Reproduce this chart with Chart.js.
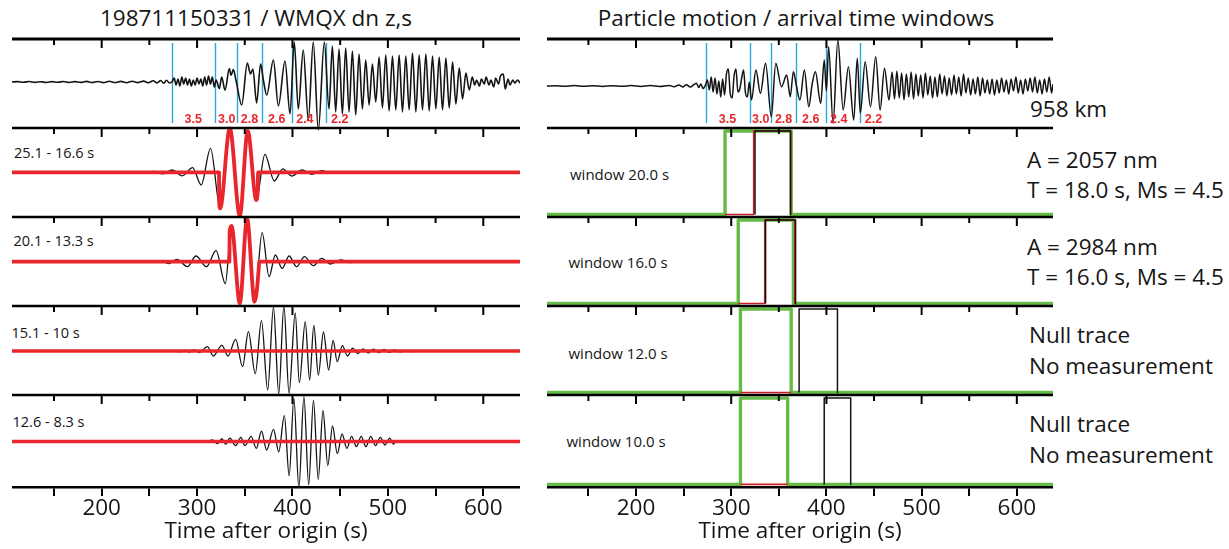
<!DOCTYPE html>
<html>
<head>
<meta charset="utf-8">
<title>198711150331 / WMQX</title>
<script src="https://cdn.jsdelivr.net/npm/chart.js@4.4.1/dist/chart.umd.min.js"></script>
<style>
  body { margin: 0; background: #fff; font-family: "Open Sans", sans-serif; color: #161616; }
  #stage { position: relative; width: 1229px; height: 549px; overflow: hidden; }
  .panel { position: absolute; }
  .txt { position: absolute; white-space: nowrap; line-height: 1; transform: translateY(-50%); }
  .center { transform: translate(-50%, -50%); }
  .big { font-size: 22.5px; }
  .band { font-size: 14.5px; }
  .win { font-size: 15px; }
</style>
</head>
<body>
<div id="stage">
  <div class="txt big center" style="left:256px;top:18px">198711150331 / WMQX dn z,s</div>
  <div class="txt big center" style="left:796px;top:18px">Particle motion / arrival time windows</div>

  <div class="txt band" style="left:14px;top:153px">25.1 - 16.6 s</div>
  <div class="txt band" style="left:13.5px;top:241px">20.1 - 13.3 s</div>
  <div class="txt band" style="left:11.5px;top:333px">15.1 - 10 s</div>
  <div class="txt band" style="left:12.5px;top:422px">12.6 - 8.3 s</div>

  <div class="txt win" style="left:570px;top:173.5px">window 20.0 s</div>
  <div class="txt win" style="left:568.5px;top:261.5px">window 16.0 s</div>
  <div class="txt win" style="left:568.5px;top:353px">window 12.0 s</div>
  <div class="txt win" style="left:566.5px;top:440.5px">window 10.0 s</div>

  <div class="txt big" style="left:1030px;top:109px">958 km</div>
  <div class="txt big" style="left:1027px;top:160px">A = 2057 nm</div>
  <div class="txt big" style="left:1027px;top:190px">T = 18.0 s, Ms = 4.5</div>
  <div class="txt big" style="left:1027px;top:246.5px">A = 2984 nm</div>
  <div class="txt big" style="left:1027px;top:276.5px">T = 16.0 s, Ms = 4.5</div>
  <div class="txt big" style="left:1029px;top:335px">Null trace</div>
  <div class="txt big" style="left:1029px;top:365.5px">No measurement</div>
  <div class="txt big" style="left:1029px;top:424px">Null trace</div>
  <div class="txt big" style="left:1029px;top:455px">No measurement</div>
</div>

<script>
// Eixo do tempo (s após a origem)
const tickValues = [150, 200, 250, 300, 350, 400, 450, 500, 550, 600];

// Velocidades de grupo (km/s) e tempos de chegada para 958 km
const groupVelocities = ['3.5', '3.0', '2.8', '2.6', '2.4', '2.2'];
const arrivalTimes = [273.7, 319.3, 342.1, 368.5, 399.2, 435.5];
const velocityLabelTimes = [296, 331, 355, 383.5, 413, 449.5];

// Sismograma bruto (coluna esquerda) [tempo, amplitude]
const leftBroadband = [
  [106,0],[112,0.4],[118,-0.3],[124,0.5],[130,-0.4],[136,0.3],[142,-0.5],[148,0.4],[154,-0.3],[160,0.5],
  [166,-0.5],[172,0.4],[178,-0.4],[184,0.6],[190,-0.5],[196,0.5],[202,-0.6],[208,0.7],[214,-0.5],[220,0.6],
  [226,-0.7],[232,0.8],[238,-0.6],[244,0.9],[249,-0.8],[254,1.2],[258,-0.9],[262,1.5],[265,-1.2],[268,1.8],
  [271,-1.0],[274,0.5],[276,4],[278,-3],[280,3],[282,-4],[284,5],[286,-2],[288,4],[290,-3],[292,3],[294,-4],
  [296,2],[298,-3],[300,4],[302,-2],[304,3],[306,-4],[308,5],[310,-3],[312,6],[314,-2],[316,5],[318,-5],[320,2],
  [323.3,-6.6],[325.8,5],[329.3,-8.3],[333.8,13.4],[335.6,6.7],[338,12.4],[340.8,1.7],
  [346.8,-23],[352.7,19],[356,8],[358.5,13],[362.4,-21],[366.6,18],[369.5,2],
  [373,-13],[380,22],[385.2,-24],[392.2,21],[397.4,-32],[401.9,40],[406.1,-27],[411.3,32],[416.6,-38],
  [421.8,40],[427.1,-48],[433.4,40],[438.3,-27],[441.8,36],[445.3,-30],[448.8,33],[452.3,-32],[455.8,34],
  [459.3,-30],[462.8,31],[466.3,-33],[469.8,28],[473.3,-27],[476.8,22],[480.3,-23],[483.8,18],[487.3,-20],
  [490.8,25],[494.3,-26],[497.8,27],[501.3,-29],[504.8,26],[508.3,-28],[511.8,27],[515.3,-30],[518.8,26],
  [522.3,-28],[525.8,29],[529.3,-30],[532.8,27],[536.3,-28],[539.8,28],[543.3,-29],[546.8,26],[550.3,-27],
  [553.8,25],[557.3,-28],[560.8,24],[564.3,-26],[567.8,20],[571.3,-22],[574.8,14],[578.3,-17],[581.8,9],
  [585.3,-8],[588.5,5],[591,-3],[593,2],[596,-4],[598,3],[601,-2],[603,5],[606,-3],[608,2],[611,-5],[613,4],
  [616,-2],[618,6],[621,8],[623,-7],[626,3],[628,-3],[631,2],[633,-1],[636,2],[638.5,-1]
];

// Sismograma bruto (coluna direita)
const rightBroadband = [
  [106.5,0],[115,0.3],[125,-0.3],[135,0.4],[145,-0.3],[155,0.3],[165,-0.4],[175,0.3],[185,-0.3],[195,0.4],
  [205,-0.4],[215,0.5],[225,-0.4],[235,0.6],[240,-0.8],[245,1.0],[249,-0.9],[253,1.2],[257,-1.0],[261,1.5],
  [263.5,2.7],[266,-1.5],[268,2.0],[270.5,-2.5],[273,1],
  [275,6],[277,-4],[279,9],[281,-6],[283,8],[285,-8],[287,5],[289,-11],[291,7],[293,-9],[295,12],[297,17],
  [299,-8],[301,-12],[303,10],[305,17],[307,-6],[309,-3],[311,8],[313,16],[315,-7],[317,-11],[319,4],
  [321.3,-14],[326,16],[330.6,-7.3],[336.1,22.7],[342.1,-30.7],[346.8,22.7],[352.8,-0.7],[358.3,11],
  [362,-10.7],[365.3,14.3],[368.5,0],[372.2,-14],[376.8,16],[381.5,-20.7],[385,2],[388.4,14.3],[394,-17.3],
  [397.7,26],[400,-5],[402.3,39.3],[407,-37.3],[412,46],[417.6,-24],[423.1,19.3],[428.7,-34],[432.4,27.7],
  [435.6,-27.3],[440.7,24.3],[446.3,-20.7],[451.8,29.3],[456.4,-24],[461,17.7],[465.7,-14],
  [469,14],[471.5,-13],[474,15],[476.5,-12],[479,13],[481.5,-14],[484,12],[486.5,-11],[489,14],[491.5,-13],
  [494,12],[496.5,-10],[499,11],[501.5,-12],[504,13],[506.5,-9],[509,10],[511.5,-12],[514,9],[516.5,-11],
  [519,12],[521.5,-8],[524,10],[526.5,-10],[529,8],[531.5,-9],[534,11],[536.5,-8],[539,9],[541.5,-10],
  [544,12],[546.5,-7],[549,8],[551.5,-9],[554,7],[556.5,-8],[559,9],[561.5,-10],[564,8],[566.5,-7],
  [569,6],[571.5,-8],[574,7],[576.5,-9],[579,6],[581.5,-7],[584,8],[586.5,-6],[589,6],[591.5,-8],
  [594,7],[596.5,-5],[599,9],[601.5,-7],[604,6],[606.5,-8],[609,7],[611.5,-5],[614,8],[616.5,-6],
  [619,9],[621.5,-7],[624,6],[626.5,-8],[629,7],[631.5,-6],[634,9],[636.5,-7],[638,2]
];

// Filtros de banda estreita: traço completo (preto) e janela medida (vermelho)
const band1Black = [[106,0],[240,0],[254,0.8],[264,-1.5],[274,2.3],[284.5,-3.5],[295.3,4.7],[304.3,-12.7],
  [314.1,24],[324.2,-36],[334.3,44],[344.8,-43.7],[353.1,41.3],[362.1,-27.7],[371.1,18],[380.9,-8.7],
  [389.9,3.5],[399.3,-3.7],[410,2.5],[420,-2],[430.7,1.7],[440,-1],[450,0.5],[460,0],[638.5,0]];
const band1Red = [[106,0],[323,0],[323.2,-30],[324.2,-36],[334.3,44],[344.8,-43.7],[353.1,41.3],
  [362.1,-27.7],[363.7,-16],[363.9,0],[638.5,0]];

const band2Black = [[106,0],[255,0],[262,0.8],[270,-2],[279.1,2.3],[289.9,-5],[298.9,5.7],[309.8,-5],
  [319.9,11],[329.6,-22],[336.1,35.7],[344.8,-41.7],[352.4,43.3],[360.3,-40],[368.2,29],[375.5,-15],
  [382,6.7],[389.2,-6.7],[396.4,5.7],[404.3,-5],[412.6,5],[421.7,-4],[430.7,3.3],[439.7,-2.3],[450.5,1.7],
  [461.4,-1],[472,0.5],[480,0],[638.5,0]];
const band2Red = [[106,0],[333.9,0],[334.1,30],[336.1,35.7],[344.8,-41.7],[352.4,43.3],[360.3,-40],
  [364.8,-4],[365,0],[638.5,0]];

const band3Black = [[106,0],[270,0],[275.5,0.6],[281,-0.8],[286.5,0.8],[292,-1],[297,1.2],[302.5,-1.5],
  [310.8,4.3],[317,-5],[326,5.7],[332.5,-5],[340.4,11.7],[347.7,-15.7],[353.8,19.3],[361,-22.7],[367.5,30.3],
  [374,-39],[380.1,44],[385.6,-42.7],[391,45],[396.4,-42.3],[402.9,38],[407.2,-31.7],[413.4,29.3],[418,-29],
  [422.4,25.7],[427.1,-24],[432.5,19],[437.9,-19],[442.6,10.7],[446.9,-10.7],[452.3,5.3],[457.8,-5],
  [463,2.8],[468.5,-2.5],[474,2.2],[479.5,-2],[485,1.8],[490.5,-1.6],[496,1.5],[501.5,-1.3],[507,1.1],
  [512.5,-0.9],[518,0.7],[524,-0.5],[530,0],[638.5,0]];
const band3Red = [[106,0],[638.5,0]];

const band4Black = [[106,0],[310,0],[316,1.5],[321.3,-2],[326,2.7],[330,-2.7],[334.3,3.3],[340.4,-4],
  [345.9,4],[350.2,-4],[356.7,5],[362.1,-6.7],[367.5,10],[372.9,-8.3],[380.1,11.7],[385.6,-10],[391.5,25],
  [396.5,-33.3],[401.5,41.7],[406.7,-45],[412,43.3],[417,-41.7],[422,40],[427,-36.7],[432,30],[437,-23.3],
  [442,15],[447,-11.7],[452,7.3],[457,-6.7],[462,5],[467,-5],[472,5],[477,-5],[482,5],[487,-4],[492,4],
  [497,-3.3],[502,3.3],[506,-2.7],[507.5,0],[638.5,0]];
const band4Red = [[106,0],[638.5,0]];

// Janelas de tempo de chegada (0 = fora, 1 = dentro)
const win20Green = [[106.5,0],[293.5,0],[293.5,1],[363,1],[363,0],[638,0]];
const win20Red = [[293.5,0],[323.6,0],[323.6,1],[362.5,1],[362.5,0]];
const win20Black = [[325,0],[325,1],[362.3,1],[362.3,0]];

const win16Green = [[106.5,0],[307.4,0],[307.4,1],[365.3,1],[365.3,0],[638,0]];
const win16Red = [[307.4,0],[335.2,0],[335.2,1],[366.7,1],[366.7,0]];
const win16Black = [[336.1,0],[336.1,1],[367.6,1],[367.6,0]];

const win12Green = [[106.5,0],[309.7,0],[309.7,1],[363,1],[363,0],[638,0]];
const win12Red = [[309.7,0],[363,0]];
const win12Black = [[371.3,0],[371.3,1],[411.6,1],[411.6,0]];

const win10Green = [[106.5,0],[309.7,0],[309.7,1],[359.3,1],[359.3,0],[638,0]];
const win10Red = [[309.7,0],[359.3,0]];
const win10Black = [[397.7,0],[397.7,1],[425.5,1],[425.5,0]];

// Cores
const BLACK = '#141414';
const RED = '#e8262b';
const DARK_RED = '#c81e24';
const GREEN = '#66bb47';
const BLUE = '#2aa8d6';

// Layout das colunas
const panelTops = [39, 128, 217, 306, 395];
const PANEL_H = 89;
const PAD = 4;
const BOTTOM_PAD = 6;
const columns = {
  L: { left: 12, width: 508, min: 106, max: 638.5 },
  R: { left: 547, width: 506, min: 106.5, max: 638 }
};

Chart.defaults.font.family = '"Open Sans", sans-serif';
Chart.defaults.color = '#161616';

// Moldura de cada painel: linha superior, ticks, marcas de chegada
const framePlugin = {
  id: 'frame',
  beforeDatasetsDraw(chart, args, opts) {
    if (!opts.arrivals) return;
    const { ctx, chartArea: ca, scales: { x } } = chart;
    ctx.save();
    ctx.strokeStyle = BLUE;
    ctx.lineWidth = 1.4;
    arrivalTimes.forEach(t => {
      const px = Math.round(x.getPixelForValue(t)) + 0.5;
      ctx.beginPath();
      ctx.moveTo(px, ca.top + 4);
      ctx.lineTo(px, ca.bottom - 5);
      ctx.stroke();
    });
    ctx.restore();
  },
  afterDatasetsDraw(chart, args, opts) {
    const { ctx, chartArea: ca, scales: { x } } = chart;
    ctx.save();
    ctx.strokeStyle = '#000';
    ctx.lineWidth = opts.topWidth || 2.5;
    ctx.beginPath();
    ctx.moveTo(ca.left, ca.top);
    ctx.lineTo(ca.right, ca.top);
    ctx.stroke();
    ctx.lineWidth = 2;
    tickValues.forEach(v => {
      const px = x.getPixelForValue(v);
      const len = v % 100 === 0 ? 9 : 6;
      ctx.beginPath();
      ctx.moveTo(px, ca.top);
      ctx.lineTo(px, ca.top + len);
      ctx.stroke();
    });
    if (opts.arrivals) {
      ctx.fillStyle = RED;
      ctx.font = 'bold 12.5px "Liberation Sans", Arial, sans-serif';
      ctx.textAlign = 'center';
      ctx.textBaseline = 'middle';
      groupVelocities.forEach((label, i) => {
        ctx.fillText(label, x.getPixelForValue(velocityLabelTimes[i]), ca.bottom - 8);
      });
    }
    ctx.restore();
  }
};

function trace(pairs, color, width, smooth) {
  return {
    data: pairs.map(([x, y]) => ({ x, y })),
    borderColor: color,
    borderWidth: width,
    pointRadius: 0,
    fill: false,
    clip: false,
    tension: 0,
    cubicInterpolationMode: smooth ? 'monotone' : 'default',
    borderJoinStyle: 'round'
  };
}

function addPanel(colKey, index, cfg) {
  const col = columns[colKey];
  const isBottom = index === panelTops.length - 1;
  const top = panelTops[index] - PAD;
  const height = isBottom ? 549 - top : PANEL_H + 2 * PAD;

  const canvas = document.createElement('canvas');
  canvas.width = col.width;
  canvas.height = height;
  canvas.className = 'panel';
  canvas.style.left = col.left + 'px';
  canvas.style.top = top + 'px';
  canvas.style.width = col.width + 'px';
  canvas.style.height = height + 'px';
  document.getElementById('stage').appendChild(canvas);

  return new Chart(canvas, {
    type: 'line',
    data: { datasets: cfg.datasets },
    options: {
      responsive: false,
      animation: false,
      events: [],
      layout: {
        padding: { top: PAD, left: 0, right: 0, bottom: isBottom ? BOTTOM_PAD : PAD }
      },
      plugins: {
        legend: { display: false },
        tooltip: { enabled: false },
        frame: { arrivals: !!cfg.arrivals, topWidth: cfg.topWidth }
      },
      scales: {
        x: {
          type: 'linear',
          min: col.min,
          max: col.max,
          display: isBottom,
          afterBuildTicks: scale => { scale.ticks = tickValues.map(v => ({ value: v })); },
          border: { display: true, color: '#000', width: 2.5 },
          grid: { display: true, drawOnChartArea: false, drawTicks: true, tickLength: 9, color: '#000', lineWidth: 2 },
          ticks: {
            autoSkip: false, maxRotation: 0, padding: 1, color: '#161616',
            font: { size: 22.5, lineHeight: 1 },
            callback: v => (v % 100 === 0 ? String(v) : '')
          },
          title: {
            display: true, text: 'Time after origin (s)', color: '#161616',
            font: { size: 22.5, lineHeight: 1 }, padding: { top: 0, bottom: 0 }
          }
        },
        y: { type: 'linear', display: false, min: cfg.yMin, max: cfg.yMax }
      }
    },
    plugins: [framePlugin]
  });
}

// Coluna esquerda: sismograma e filtros
addPanel('L', 0, { yMin: -46, yMax: 43, arrivals: true, topWidth: 3,
  datasets: [trace(leftBroadband, BLACK, 1.6, true)] });
addPanel('L', 1, { yMin: -44.7, yMax: 44.3,
  datasets: [trace(band1Red, RED, 3.8, true), trace(band1Black, BLACK, 1.3, true)] });
addPanel('L', 2, { yMin: -44.3, yMax: 44.7,
  datasets: [trace(band2Red, RED, 3.8, true), trace(band2Black, BLACK, 1.3, true)] });
addPanel('L', 3, { yMin: -44, yMax: 45,
  datasets: [trace(band3Red, RED, 3.6, false), trace(band3Black, BLACK, 1.3, true)] });
addPanel('L', 4, { yMin: -44, yMax: 45,
  datasets: [trace(band4Red, RED, 3.6, false), trace(band4Black, BLACK, 1.3, true)] });

// Coluna direita: movimento de partícula e janelas
const boxRange = { yMin: -0.03, yMax: 1.036 };
addPanel('R', 0, { yMin: -42, yMax: 47, arrivals: true, topWidth: 3,
  datasets: [trace(rightBroadband, BLACK, 1.5, true)] });
addPanel('R', 1, { ...boxRange, datasets: [
  trace(win20Black, BLACK, 1.5, false), trace(win20Red, DARK_RED, 1.6, false), trace(win20Green, GREEN, 3.4, false)] });
addPanel('R', 2, { ...boxRange, datasets: [
  trace(win16Black, BLACK, 1.5, false), trace(win16Red, DARK_RED, 1.6, false), trace(win16Green, GREEN, 3.4, false)] });
addPanel('R', 3, { ...boxRange, datasets: [
  trace(win12Black, BLACK, 1.5, false), trace(win12Red, DARK_RED, 1.6, false), trace(win12Green, GREEN, 3.4, false)] });
addPanel('R', 4, { ...boxRange, datasets: [
  trace(win10Black, BLACK, 1.5, false), trace(win10Red, DARK_RED, 1.6, false), trace(win10Green, GREEN, 3.4, false)] });
</script>
</body>
</html>
